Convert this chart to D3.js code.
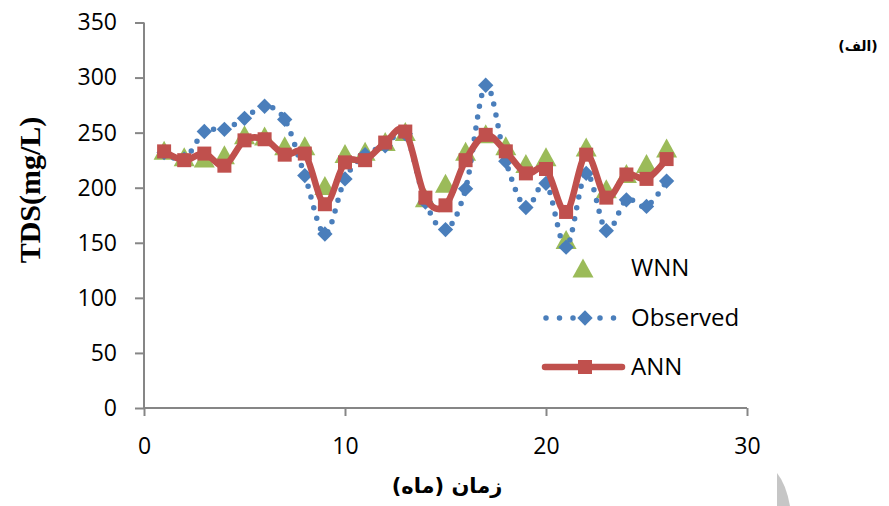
<!DOCTYPE html>
<html><head><meta charset="utf-8">
<script src="https://cdn.jsdelivr.net/npm/d3@7"></script>
<style>body{margin:0;background:#fff;}svg{display:block;}</style>
</head><body><svg id="c" width="889" height="506"></svg>
<script>
const months = [1,2,3,4,5,6,7,8,9,10,11,12,13,14,15,16,17,18,19,20,21,22,23,24,25,26];
const wnn = [234,228,227,230,248,247,238,238,202,231,233,242,251,191,204,233,249,238,222,228,153,237,199,213,222,236];
const observed = [232,226,251,253,263,274,262,211,158,208,230,238,249,187,162,199,293,224,182,204,146,213,161,189,183,206];
const ann = [233,225,231,220,243,244,230,231,185,223,225,241,251,191,184,225,248,233,213,217,178,230,191,212,208,226];
const xTicks = [0,10,20,30];
const yTicks = [0,50,100,150,200,250,300,350];
const seriesNames = ["WNN","Observed","ANN"];

const svg = d3.select("#c");
const x = d3.scaleLinear().domain([0,30]).range([144,747]);
const y = d3.scaleLinear().domain([0,350]).range([408,22.5]);
const axisColor = "#868686";
const green = "#9BBB59", blue = "#4A7EBB", red = "#C0504D";

// axes
const gx = svg.append("g").attr("transform","translate(0,408)")
  .call(d3.axisBottom(x).tickValues(xTicks).tickSize(8).tickPadding(18).tickFormat(d3.format("d")));
const gy = svg.append("g").attr("transform","translate(144,0)")
  .call(d3.axisLeft(y).tickValues(yTicks).tickSize(9).tickPadding(18).tickFormat(d3.format("d")));
[gx,gy].forEach(g=>{
  g.select(".domain").attr("stroke",axisColor).attr("stroke-width",2);
  g.selectAll(".tick line").attr("stroke",axisColor).attr("stroke-width",2);
  g.selectAll(".tick text").attr("fill","#000").style("font-family","'Open Sans', sans-serif").style("font-size","23px");
});
gx.select(".domain").attr("d","M144,0H747");
gy.select(".domain").attr("d","M0,22.5V408");
gx.selectAll(".tick text").attr("dy","0.71em").attr("y",30);

const curve = d3.curveCatmullRom.alpha(0);
const triPath = "M0,-9.5L10.5,9.5L-10.5,9.5Z";

// WNN
svg.append("g").selectAll("path").data(months).join("path")
  .attr("d",triPath).attr("fill",green)
  .attr("transform",(d,i)=>`translate(${x(d)},${y(wnn[i])})`);

// Observed
const lineO = d3.line().x((d,i)=>x(months[i])).y(d=>y(d)).curve(curve);
svg.append("path").datum(observed).attr("d",lineO).attr("fill","none")
  .attr("stroke",blue).attr("stroke-width",5.5).attr("stroke-linecap","round").attr("stroke-dasharray","0 11");
const dia = d3.symbol().type(d3.symbolDiamond2).size(150);
svg.append("g").selectAll("path").data(months).join("path")
  .attr("d",dia).attr("fill",blue)
  .attr("transform",(d,i)=>`translate(${x(d)},${y(observed[i])})`);

// ANN
svg.append("path").datum(ann).attr("d",lineO).attr("fill","none")
  .attr("stroke",red).attr("stroke-width",6.5).attr("stroke-linejoin","round");
svg.append("g").selectAll("rect").data(months).join("rect")
  .attr("x",(d)=>x(d)-7).attr("y",(d,i)=>y(ann[i])-7).attr("width",14).attr("height",14)
  .attr("fill",red);

// legend
const lg = svg.append("g");
const ly = [268,318,367];
lg.append("path").attr("d",triPath).attr("fill",green).attr("transform",`translate(583,${ly[0]})`);
lg.append("line").attr("x1",546).attr("x2",614).attr("y1",ly[1]).attr("y2",ly[1])
  .attr("stroke",blue).attr("stroke-width",5.5).attr("stroke-linecap","round").attr("stroke-dasharray","0 13.5");
lg.append("path").attr("d",dia).attr("fill",blue).attr("transform",`translate(585,${ly[1]})`);
lg.append("line").attr("x1",545).attr("x2",622).attr("y1",ly[2]).attr("y2",ly[2])
  .attr("stroke",red).attr("stroke-width",6.5).attr("stroke-linecap","round");
lg.append("rect").attr("x",578).attr("y",ly[2]-7).attr("width",14).attr("height",14).attr("fill",red);
lg.selectAll("text").data(seriesNames).join("text")
  .attr("x",631).attr("y",(d,i)=>ly[i]).attr("dy","0.35em")
  .style("font-family","'Open Sans', sans-serif").style("font-size","24px").attr("fill","#000")
  .text(d=>d);

// axis titles
svg.append("text").attr("transform","translate(40,190) rotate(-90)").attr("text-anchor","middle")
  .style("font-family","'Liberation Serif', serif").style("font-weight","bold").style("font-size","30px")
  .text("TDS(mg/L)");
svg.append("text").attr("x",447).attr("y",493).attr("text-anchor","middle").attr("direction","rtl")
  .style("font-family","'DejaVu Sans', sans-serif").style("font-weight","bold").style("font-size","21px")
  .text("زمان (ماه)");
svg.append("text").attr("x",858).attr("y",51).attr("text-anchor","middle").attr("direction","rtl")
  .style("font-family","'DejaVu Sans', sans-serif").style("font-weight","bold").style("font-size","14px")
  .text("(الف)");

// grey artifact at bottom right
svg.append("path").attr("d","M777,473 Q786,484 790,506 L777,506 Z").attr("fill","#c6c6c6");
</script></body></html>
